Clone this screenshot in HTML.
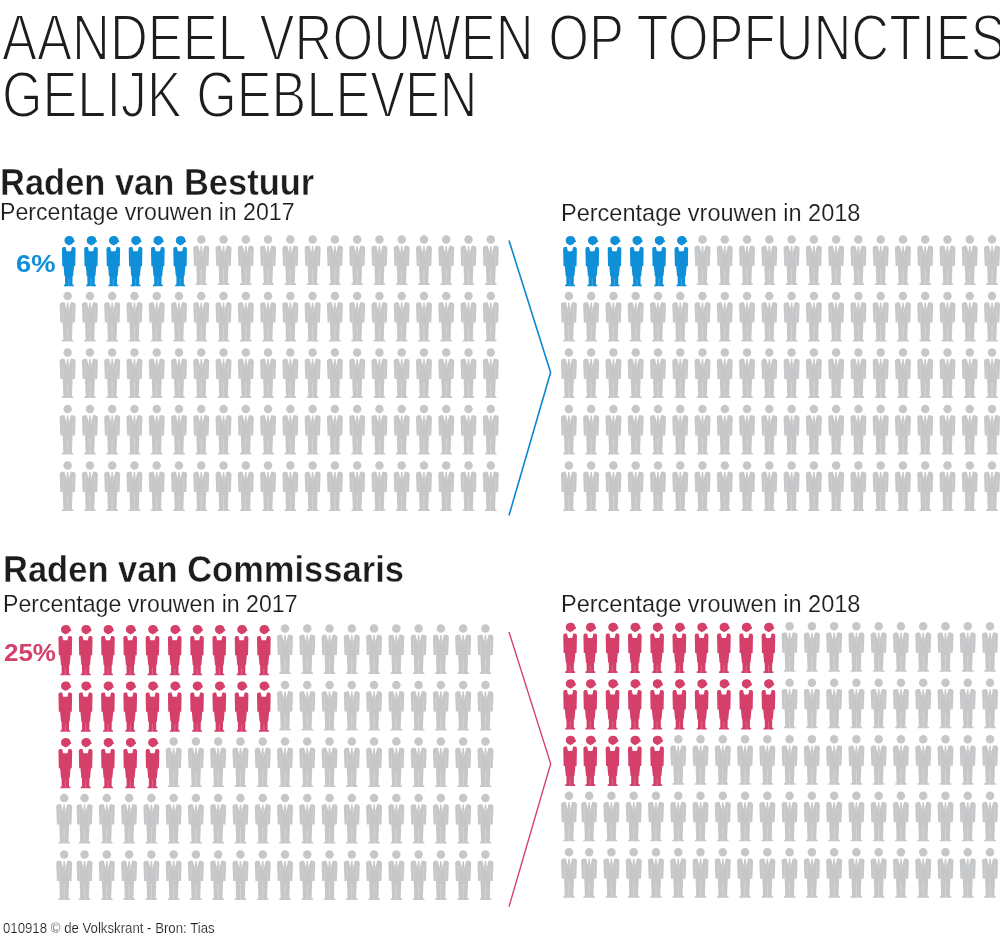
<!DOCTYPE html>
<html lang="nl">
<head>
<meta charset="utf-8">
<title>Aandeel vrouwen op topfuncties gelijk gebleven</title>
<style>
html,body{margin:0;padding:0;background:#fff;}
body{width:1000px;height:948px;position:relative;overflow:hidden;font-family:"Liberation Sans",sans-serif;}
.t{position:absolute;white-space:nowrap;line-height:1;transform-origin:0 0;}
</style>
</head>
<body>
<svg width="1000" height="948" viewBox="0 0 1000 948" style="position:absolute;left:0;top:0">
<defs>
<symbol id="m" overflow="visible">
<circle cx="9" cy="5.5" r="4.25"/>
<path d="M3.7 11.7 L5.9 11.7 L8.1 20 L7.75 18.2 L8.3 12.1 L9.7 12.1 L10.25 18.2 L9 21.2 L9.9 20 L12.1 11.7 L14.3 11.7 Q16.9 11.7 17 14.2 L16.3 32 L13.95 32 L13.3 49 L14.8 49.7 L14.8 51 L3.2 51 L3.2 49.7 L4.7 49 L4.05 32 L1.7 32 L1 14.2 Q1.1 11.7 3.7 11.7 Z"/>
<path d="M4.1 17 L4.3 32 M13.9 17 L13.7 32" stroke="#fff" stroke-opacity="0.3" stroke-width="0.45" fill="none"/>
<path d="M9 35 L9 51" stroke="#fff" stroke-opacity="0.45" stroke-width="0.55" fill="none"/>
</symbol>
<symbol id="w" overflow="visible">
<path d="M8 2.3 C11 1.3 13.9 2.9 14.2 5.8 L14.9 7.1 L14.9 8 L13.6 8.3 C13 9.6 11.6 10.5 10.4 10.8 L9.2 11.6 L8 10.8 C6 10.3 4.7 8.6 4.7 6.6 C4.7 4.5 5.9 2.8 8 2.3 Z"/>
<path d="M3.9 12.9 L5.8 12.9 L6.9 17.3 L11.1 17.3 L12.2 12.9 L13.9 12.9 Q15.8 12.9 15.85 15 L15.5 32.3 L14.3 32.3 L13.4 42 L12.8 42.3 L12.7 50.2 L14 50.9 L14 52.3 L4.1 52.3 L4.1 50.9 L5.4 50.2 L5.3 42.3 L4.7 42 L3.8 32.3 L2.5 32.3 L2.15 15 Q2.2 12.9 3.9 12.9 Z"/>
<path d="M9.05 44.5 L9.05 52.3" stroke="#fff" stroke-opacity="0.4" stroke-width="0.5" fill="none"/>
</symbol>
</defs>
<use href="#w" x="59.75" y="234.00" fill="#0f8fd8"/>
<use href="#w" x="82.02" y="234.00" fill="#0f8fd8"/>
<use href="#w" x="104.29" y="234.00" fill="#0f8fd8"/>
<use href="#w" x="126.56" y="234.00" fill="#0f8fd8"/>
<use href="#w" x="148.83" y="234.00" fill="#0f8fd8"/>
<use href="#w" x="171.10" y="234.00" fill="#0f8fd8"/>
<use href="#m" x="192.27" y="234.00" fill="#c6c7c9"/>
<use href="#m" x="214.54" y="234.00" fill="#c6c7c9"/>
<use href="#m" x="236.81" y="234.00" fill="#c6c7c9"/>
<use href="#m" x="259.08" y="234.00" fill="#c6c7c9"/>
<use href="#m" x="281.35" y="234.00" fill="#c6c7c9"/>
<use href="#m" x="303.62" y="234.00" fill="#c6c7c9"/>
<use href="#m" x="325.89" y="234.00" fill="#c6c7c9"/>
<use href="#m" x="348.16" y="234.00" fill="#c6c7c9"/>
<use href="#m" x="370.43" y="234.00" fill="#c6c7c9"/>
<use href="#m" x="392.70" y="234.00" fill="#c6c7c9"/>
<use href="#m" x="414.97" y="234.00" fill="#c6c7c9"/>
<use href="#m" x="437.24" y="234.00" fill="#c6c7c9"/>
<use href="#m" x="459.51" y="234.00" fill="#c6c7c9"/>
<use href="#m" x="481.78" y="234.00" fill="#c6c7c9"/>
<use href="#m" x="58.65" y="290.50" fill="#c6c7c9"/>
<use href="#m" x="80.92" y="290.50" fill="#c6c7c9"/>
<use href="#m" x="103.19" y="290.50" fill="#c6c7c9"/>
<use href="#m" x="125.46" y="290.50" fill="#c6c7c9"/>
<use href="#m" x="147.73" y="290.50" fill="#c6c7c9"/>
<use href="#m" x="170.00" y="290.50" fill="#c6c7c9"/>
<use href="#m" x="192.27" y="290.50" fill="#c6c7c9"/>
<use href="#m" x="214.54" y="290.50" fill="#c6c7c9"/>
<use href="#m" x="236.81" y="290.50" fill="#c6c7c9"/>
<use href="#m" x="259.08" y="290.50" fill="#c6c7c9"/>
<use href="#m" x="281.35" y="290.50" fill="#c6c7c9"/>
<use href="#m" x="303.62" y="290.50" fill="#c6c7c9"/>
<use href="#m" x="325.89" y="290.50" fill="#c6c7c9"/>
<use href="#m" x="348.16" y="290.50" fill="#c6c7c9"/>
<use href="#m" x="370.43" y="290.50" fill="#c6c7c9"/>
<use href="#m" x="392.70" y="290.50" fill="#c6c7c9"/>
<use href="#m" x="414.97" y="290.50" fill="#c6c7c9"/>
<use href="#m" x="437.24" y="290.50" fill="#c6c7c9"/>
<use href="#m" x="459.51" y="290.50" fill="#c6c7c9"/>
<use href="#m" x="481.78" y="290.50" fill="#c6c7c9"/>
<use href="#m" x="58.65" y="347.00" fill="#c6c7c9"/>
<use href="#m" x="80.92" y="347.00" fill="#c6c7c9"/>
<use href="#m" x="103.19" y="347.00" fill="#c6c7c9"/>
<use href="#m" x="125.46" y="347.00" fill="#c6c7c9"/>
<use href="#m" x="147.73" y="347.00" fill="#c6c7c9"/>
<use href="#m" x="170.00" y="347.00" fill="#c6c7c9"/>
<use href="#m" x="192.27" y="347.00" fill="#c6c7c9"/>
<use href="#m" x="214.54" y="347.00" fill="#c6c7c9"/>
<use href="#m" x="236.81" y="347.00" fill="#c6c7c9"/>
<use href="#m" x="259.08" y="347.00" fill="#c6c7c9"/>
<use href="#m" x="281.35" y="347.00" fill="#c6c7c9"/>
<use href="#m" x="303.62" y="347.00" fill="#c6c7c9"/>
<use href="#m" x="325.89" y="347.00" fill="#c6c7c9"/>
<use href="#m" x="348.16" y="347.00" fill="#c6c7c9"/>
<use href="#m" x="370.43" y="347.00" fill="#c6c7c9"/>
<use href="#m" x="392.70" y="347.00" fill="#c6c7c9"/>
<use href="#m" x="414.97" y="347.00" fill="#c6c7c9"/>
<use href="#m" x="437.24" y="347.00" fill="#c6c7c9"/>
<use href="#m" x="459.51" y="347.00" fill="#c6c7c9"/>
<use href="#m" x="481.78" y="347.00" fill="#c6c7c9"/>
<use href="#m" x="58.65" y="403.50" fill="#c6c7c9"/>
<use href="#m" x="80.92" y="403.50" fill="#c6c7c9"/>
<use href="#m" x="103.19" y="403.50" fill="#c6c7c9"/>
<use href="#m" x="125.46" y="403.50" fill="#c6c7c9"/>
<use href="#m" x="147.73" y="403.50" fill="#c6c7c9"/>
<use href="#m" x="170.00" y="403.50" fill="#c6c7c9"/>
<use href="#m" x="192.27" y="403.50" fill="#c6c7c9"/>
<use href="#m" x="214.54" y="403.50" fill="#c6c7c9"/>
<use href="#m" x="236.81" y="403.50" fill="#c6c7c9"/>
<use href="#m" x="259.08" y="403.50" fill="#c6c7c9"/>
<use href="#m" x="281.35" y="403.50" fill="#c6c7c9"/>
<use href="#m" x="303.62" y="403.50" fill="#c6c7c9"/>
<use href="#m" x="325.89" y="403.50" fill="#c6c7c9"/>
<use href="#m" x="348.16" y="403.50" fill="#c6c7c9"/>
<use href="#m" x="370.43" y="403.50" fill="#c6c7c9"/>
<use href="#m" x="392.70" y="403.50" fill="#c6c7c9"/>
<use href="#m" x="414.97" y="403.50" fill="#c6c7c9"/>
<use href="#m" x="437.24" y="403.50" fill="#c6c7c9"/>
<use href="#m" x="459.51" y="403.50" fill="#c6c7c9"/>
<use href="#m" x="481.78" y="403.50" fill="#c6c7c9"/>
<use href="#m" x="58.65" y="460.00" fill="#c6c7c9"/>
<use href="#m" x="80.92" y="460.00" fill="#c6c7c9"/>
<use href="#m" x="103.19" y="460.00" fill="#c6c7c9"/>
<use href="#m" x="125.46" y="460.00" fill="#c6c7c9"/>
<use href="#m" x="147.73" y="460.00" fill="#c6c7c9"/>
<use href="#m" x="170.00" y="460.00" fill="#c6c7c9"/>
<use href="#m" x="192.27" y="460.00" fill="#c6c7c9"/>
<use href="#m" x="214.54" y="460.00" fill="#c6c7c9"/>
<use href="#m" x="236.81" y="460.00" fill="#c6c7c9"/>
<use href="#m" x="259.08" y="460.00" fill="#c6c7c9"/>
<use href="#m" x="281.35" y="460.00" fill="#c6c7c9"/>
<use href="#m" x="303.62" y="460.00" fill="#c6c7c9"/>
<use href="#m" x="325.89" y="460.00" fill="#c6c7c9"/>
<use href="#m" x="348.16" y="460.00" fill="#c6c7c9"/>
<use href="#m" x="370.43" y="460.00" fill="#c6c7c9"/>
<use href="#m" x="392.70" y="460.00" fill="#c6c7c9"/>
<use href="#m" x="414.97" y="460.00" fill="#c6c7c9"/>
<use href="#m" x="437.24" y="460.00" fill="#c6c7c9"/>
<use href="#m" x="459.51" y="460.00" fill="#c6c7c9"/>
<use href="#m" x="481.78" y="460.00" fill="#c6c7c9"/>
<use href="#w" x="561.00" y="234.00" fill="#0f8fd8"/>
<use href="#w" x="583.27" y="234.00" fill="#0f8fd8"/>
<use href="#w" x="605.54" y="234.00" fill="#0f8fd8"/>
<use href="#w" x="627.81" y="234.00" fill="#0f8fd8"/>
<use href="#w" x="650.08" y="234.00" fill="#0f8fd8"/>
<use href="#w" x="672.35" y="234.00" fill="#0f8fd8"/>
<use href="#m" x="693.52" y="234.00" fill="#c6c7c9"/>
<use href="#m" x="715.79" y="234.00" fill="#c6c7c9"/>
<use href="#m" x="738.06" y="234.00" fill="#c6c7c9"/>
<use href="#m" x="760.33" y="234.00" fill="#c6c7c9"/>
<use href="#m" x="782.60" y="234.00" fill="#c6c7c9"/>
<use href="#m" x="804.87" y="234.00" fill="#c6c7c9"/>
<use href="#m" x="827.14" y="234.00" fill="#c6c7c9"/>
<use href="#m" x="849.41" y="234.00" fill="#c6c7c9"/>
<use href="#m" x="871.68" y="234.00" fill="#c6c7c9"/>
<use href="#m" x="893.95" y="234.00" fill="#c6c7c9"/>
<use href="#m" x="916.22" y="234.00" fill="#c6c7c9"/>
<use href="#m" x="938.49" y="234.00" fill="#c6c7c9"/>
<use href="#m" x="960.76" y="234.00" fill="#c6c7c9"/>
<use href="#m" x="983.03" y="234.00" fill="#c6c7c9"/>
<use href="#m" x="559.90" y="290.50" fill="#c6c7c9"/>
<use href="#m" x="582.17" y="290.50" fill="#c6c7c9"/>
<use href="#m" x="604.44" y="290.50" fill="#c6c7c9"/>
<use href="#m" x="626.71" y="290.50" fill="#c6c7c9"/>
<use href="#m" x="648.98" y="290.50" fill="#c6c7c9"/>
<use href="#m" x="671.25" y="290.50" fill="#c6c7c9"/>
<use href="#m" x="693.52" y="290.50" fill="#c6c7c9"/>
<use href="#m" x="715.79" y="290.50" fill="#c6c7c9"/>
<use href="#m" x="738.06" y="290.50" fill="#c6c7c9"/>
<use href="#m" x="760.33" y="290.50" fill="#c6c7c9"/>
<use href="#m" x="782.60" y="290.50" fill="#c6c7c9"/>
<use href="#m" x="804.87" y="290.50" fill="#c6c7c9"/>
<use href="#m" x="827.14" y="290.50" fill="#c6c7c9"/>
<use href="#m" x="849.41" y="290.50" fill="#c6c7c9"/>
<use href="#m" x="871.68" y="290.50" fill="#c6c7c9"/>
<use href="#m" x="893.95" y="290.50" fill="#c6c7c9"/>
<use href="#m" x="916.22" y="290.50" fill="#c6c7c9"/>
<use href="#m" x="938.49" y="290.50" fill="#c6c7c9"/>
<use href="#m" x="960.76" y="290.50" fill="#c6c7c9"/>
<use href="#m" x="983.03" y="290.50" fill="#c6c7c9"/>
<use href="#m" x="559.90" y="347.00" fill="#c6c7c9"/>
<use href="#m" x="582.17" y="347.00" fill="#c6c7c9"/>
<use href="#m" x="604.44" y="347.00" fill="#c6c7c9"/>
<use href="#m" x="626.71" y="347.00" fill="#c6c7c9"/>
<use href="#m" x="648.98" y="347.00" fill="#c6c7c9"/>
<use href="#m" x="671.25" y="347.00" fill="#c6c7c9"/>
<use href="#m" x="693.52" y="347.00" fill="#c6c7c9"/>
<use href="#m" x="715.79" y="347.00" fill="#c6c7c9"/>
<use href="#m" x="738.06" y="347.00" fill="#c6c7c9"/>
<use href="#m" x="760.33" y="347.00" fill="#c6c7c9"/>
<use href="#m" x="782.60" y="347.00" fill="#c6c7c9"/>
<use href="#m" x="804.87" y="347.00" fill="#c6c7c9"/>
<use href="#m" x="827.14" y="347.00" fill="#c6c7c9"/>
<use href="#m" x="849.41" y="347.00" fill="#c6c7c9"/>
<use href="#m" x="871.68" y="347.00" fill="#c6c7c9"/>
<use href="#m" x="893.95" y="347.00" fill="#c6c7c9"/>
<use href="#m" x="916.22" y="347.00" fill="#c6c7c9"/>
<use href="#m" x="938.49" y="347.00" fill="#c6c7c9"/>
<use href="#m" x="960.76" y="347.00" fill="#c6c7c9"/>
<use href="#m" x="983.03" y="347.00" fill="#c6c7c9"/>
<use href="#m" x="559.90" y="403.50" fill="#c6c7c9"/>
<use href="#m" x="582.17" y="403.50" fill="#c6c7c9"/>
<use href="#m" x="604.44" y="403.50" fill="#c6c7c9"/>
<use href="#m" x="626.71" y="403.50" fill="#c6c7c9"/>
<use href="#m" x="648.98" y="403.50" fill="#c6c7c9"/>
<use href="#m" x="671.25" y="403.50" fill="#c6c7c9"/>
<use href="#m" x="693.52" y="403.50" fill="#c6c7c9"/>
<use href="#m" x="715.79" y="403.50" fill="#c6c7c9"/>
<use href="#m" x="738.06" y="403.50" fill="#c6c7c9"/>
<use href="#m" x="760.33" y="403.50" fill="#c6c7c9"/>
<use href="#m" x="782.60" y="403.50" fill="#c6c7c9"/>
<use href="#m" x="804.87" y="403.50" fill="#c6c7c9"/>
<use href="#m" x="827.14" y="403.50" fill="#c6c7c9"/>
<use href="#m" x="849.41" y="403.50" fill="#c6c7c9"/>
<use href="#m" x="871.68" y="403.50" fill="#c6c7c9"/>
<use href="#m" x="893.95" y="403.50" fill="#c6c7c9"/>
<use href="#m" x="916.22" y="403.50" fill="#c6c7c9"/>
<use href="#m" x="938.49" y="403.50" fill="#c6c7c9"/>
<use href="#m" x="960.76" y="403.50" fill="#c6c7c9"/>
<use href="#m" x="983.03" y="403.50" fill="#c6c7c9"/>
<use href="#m" x="559.90" y="460.00" fill="#c6c7c9"/>
<use href="#m" x="582.17" y="460.00" fill="#c6c7c9"/>
<use href="#m" x="604.44" y="460.00" fill="#c6c7c9"/>
<use href="#m" x="626.71" y="460.00" fill="#c6c7c9"/>
<use href="#m" x="648.98" y="460.00" fill="#c6c7c9"/>
<use href="#m" x="671.25" y="460.00" fill="#c6c7c9"/>
<use href="#m" x="693.52" y="460.00" fill="#c6c7c9"/>
<use href="#m" x="715.79" y="460.00" fill="#c6c7c9"/>
<use href="#m" x="738.06" y="460.00" fill="#c6c7c9"/>
<use href="#m" x="760.33" y="460.00" fill="#c6c7c9"/>
<use href="#m" x="782.60" y="460.00" fill="#c6c7c9"/>
<use href="#m" x="804.87" y="460.00" fill="#c6c7c9"/>
<use href="#m" x="827.14" y="460.00" fill="#c6c7c9"/>
<use href="#m" x="849.41" y="460.00" fill="#c6c7c9"/>
<use href="#m" x="871.68" y="460.00" fill="#c6c7c9"/>
<use href="#m" x="893.95" y="460.00" fill="#c6c7c9"/>
<use href="#m" x="916.22" y="460.00" fill="#c6c7c9"/>
<use href="#m" x="938.49" y="460.00" fill="#c6c7c9"/>
<use href="#m" x="960.76" y="460.00" fill="#c6c7c9"/>
<use href="#m" x="983.03" y="460.00" fill="#c6c7c9"/>
<use href="#w" x="56.30" y="623.00" fill="#d5406b"/>
<use href="#w" x="76.67" y="623.00" fill="#d5406b"/>
<use href="#w" x="98.94" y="623.00" fill="#d5406b"/>
<use href="#w" x="121.21" y="623.00" fill="#d5406b"/>
<use href="#w" x="143.48" y="623.00" fill="#d5406b"/>
<use href="#w" x="165.75" y="623.00" fill="#d5406b"/>
<use href="#w" x="188.02" y="623.00" fill="#d5406b"/>
<use href="#w" x="210.29" y="623.00" fill="#d5406b"/>
<use href="#w" x="232.56" y="623.00" fill="#d5406b"/>
<use href="#w" x="254.83" y="623.00" fill="#d5406b"/>
<use href="#m" x="276.00" y="623.00" fill="#c6c7c9"/>
<use href="#m" x="298.27" y="623.00" fill="#c6c7c9"/>
<use href="#m" x="320.54" y="623.00" fill="#c6c7c9"/>
<use href="#m" x="342.81" y="623.00" fill="#c6c7c9"/>
<use href="#m" x="365.08" y="623.00" fill="#c6c7c9"/>
<use href="#m" x="387.35" y="623.00" fill="#c6c7c9"/>
<use href="#m" x="409.62" y="623.00" fill="#c6c7c9"/>
<use href="#m" x="431.89" y="623.00" fill="#c6c7c9"/>
<use href="#m" x="454.16" y="623.00" fill="#c6c7c9"/>
<use href="#m" x="476.43" y="623.00" fill="#c6c7c9"/>
<use href="#w" x="56.30" y="679.50" fill="#d5406b"/>
<use href="#w" x="76.67" y="679.50" fill="#d5406b"/>
<use href="#w" x="98.94" y="679.50" fill="#d5406b"/>
<use href="#w" x="121.21" y="679.50" fill="#d5406b"/>
<use href="#w" x="143.48" y="679.50" fill="#d5406b"/>
<use href="#w" x="165.75" y="679.50" fill="#d5406b"/>
<use href="#w" x="188.02" y="679.50" fill="#d5406b"/>
<use href="#w" x="210.29" y="679.50" fill="#d5406b"/>
<use href="#w" x="232.56" y="679.50" fill="#d5406b"/>
<use href="#w" x="254.83" y="679.50" fill="#d5406b"/>
<use href="#m" x="276.00" y="679.50" fill="#c6c7c9"/>
<use href="#m" x="298.27" y="679.50" fill="#c6c7c9"/>
<use href="#m" x="320.54" y="679.50" fill="#c6c7c9"/>
<use href="#m" x="342.81" y="679.50" fill="#c6c7c9"/>
<use href="#m" x="365.08" y="679.50" fill="#c6c7c9"/>
<use href="#m" x="387.35" y="679.50" fill="#c6c7c9"/>
<use href="#m" x="409.62" y="679.50" fill="#c6c7c9"/>
<use href="#m" x="431.89" y="679.50" fill="#c6c7c9"/>
<use href="#m" x="454.16" y="679.50" fill="#c6c7c9"/>
<use href="#m" x="476.43" y="679.50" fill="#c6c7c9"/>
<use href="#w" x="56.30" y="736.00" fill="#d5406b"/>
<use href="#w" x="76.67" y="736.00" fill="#d5406b"/>
<use href="#w" x="98.94" y="736.00" fill="#d5406b"/>
<use href="#w" x="121.21" y="736.00" fill="#d5406b"/>
<use href="#w" x="143.48" y="736.00" fill="#d5406b"/>
<use href="#m" x="164.65" y="736.00" fill="#c6c7c9"/>
<use href="#m" x="186.92" y="736.00" fill="#c6c7c9"/>
<use href="#m" x="209.19" y="736.00" fill="#c6c7c9"/>
<use href="#m" x="231.46" y="736.00" fill="#c6c7c9"/>
<use href="#m" x="253.73" y="736.00" fill="#c6c7c9"/>
<use href="#m" x="276.00" y="736.00" fill="#c6c7c9"/>
<use href="#m" x="298.27" y="736.00" fill="#c6c7c9"/>
<use href="#m" x="320.54" y="736.00" fill="#c6c7c9"/>
<use href="#m" x="342.81" y="736.00" fill="#c6c7c9"/>
<use href="#m" x="365.08" y="736.00" fill="#c6c7c9"/>
<use href="#m" x="387.35" y="736.00" fill="#c6c7c9"/>
<use href="#m" x="409.62" y="736.00" fill="#c6c7c9"/>
<use href="#m" x="431.89" y="736.00" fill="#c6c7c9"/>
<use href="#m" x="454.16" y="736.00" fill="#c6c7c9"/>
<use href="#m" x="476.43" y="736.00" fill="#c6c7c9"/>
<use href="#m" x="55.20" y="792.50" fill="#c6c7c9"/>
<use href="#m" x="75.57" y="792.50" fill="#c6c7c9"/>
<use href="#m" x="97.84" y="792.50" fill="#c6c7c9"/>
<use href="#m" x="120.11" y="792.50" fill="#c6c7c9"/>
<use href="#m" x="142.38" y="792.50" fill="#c6c7c9"/>
<use href="#m" x="164.65" y="792.50" fill="#c6c7c9"/>
<use href="#m" x="186.92" y="792.50" fill="#c6c7c9"/>
<use href="#m" x="209.19" y="792.50" fill="#c6c7c9"/>
<use href="#m" x="231.46" y="792.50" fill="#c6c7c9"/>
<use href="#m" x="253.73" y="792.50" fill="#c6c7c9"/>
<use href="#m" x="276.00" y="792.50" fill="#c6c7c9"/>
<use href="#m" x="298.27" y="792.50" fill="#c6c7c9"/>
<use href="#m" x="320.54" y="792.50" fill="#c6c7c9"/>
<use href="#m" x="342.81" y="792.50" fill="#c6c7c9"/>
<use href="#m" x="365.08" y="792.50" fill="#c6c7c9"/>
<use href="#m" x="387.35" y="792.50" fill="#c6c7c9"/>
<use href="#m" x="409.62" y="792.50" fill="#c6c7c9"/>
<use href="#m" x="431.89" y="792.50" fill="#c6c7c9"/>
<use href="#m" x="454.16" y="792.50" fill="#c6c7c9"/>
<use href="#m" x="476.43" y="792.50" fill="#c6c7c9"/>
<use href="#m" x="55.20" y="849.00" fill="#c6c7c9"/>
<use href="#m" x="75.57" y="849.00" fill="#c6c7c9"/>
<use href="#m" x="97.84" y="849.00" fill="#c6c7c9"/>
<use href="#m" x="120.11" y="849.00" fill="#c6c7c9"/>
<use href="#m" x="142.38" y="849.00" fill="#c6c7c9"/>
<use href="#m" x="164.65" y="849.00" fill="#c6c7c9"/>
<use href="#m" x="186.92" y="849.00" fill="#c6c7c9"/>
<use href="#m" x="209.19" y="849.00" fill="#c6c7c9"/>
<use href="#m" x="231.46" y="849.00" fill="#c6c7c9"/>
<use href="#m" x="253.73" y="849.00" fill="#c6c7c9"/>
<use href="#m" x="276.00" y="849.00" fill="#c6c7c9"/>
<use href="#m" x="298.27" y="849.00" fill="#c6c7c9"/>
<use href="#m" x="320.54" y="849.00" fill="#c6c7c9"/>
<use href="#m" x="342.81" y="849.00" fill="#c6c7c9"/>
<use href="#m" x="365.08" y="849.00" fill="#c6c7c9"/>
<use href="#m" x="387.35" y="849.00" fill="#c6c7c9"/>
<use href="#m" x="409.62" y="849.00" fill="#c6c7c9"/>
<use href="#m" x="431.89" y="849.00" fill="#c6c7c9"/>
<use href="#m" x="454.16" y="849.00" fill="#c6c7c9"/>
<use href="#m" x="476.43" y="849.00" fill="#c6c7c9"/>
<use href="#w" x="561.10" y="620.70" fill="#d5406b"/>
<use href="#w" x="581.27" y="620.70" fill="#d5406b"/>
<use href="#w" x="603.54" y="620.70" fill="#d5406b"/>
<use href="#w" x="625.81" y="620.70" fill="#d5406b"/>
<use href="#w" x="648.08" y="620.70" fill="#d5406b"/>
<use href="#w" x="670.35" y="620.70" fill="#d5406b"/>
<use href="#w" x="692.62" y="620.70" fill="#d5406b"/>
<use href="#w" x="714.89" y="620.70" fill="#d5406b"/>
<use href="#w" x="737.16" y="620.70" fill="#d5406b"/>
<use href="#w" x="759.43" y="620.70" fill="#d5406b"/>
<use href="#m" x="780.60" y="620.70" fill="#c6c7c9"/>
<use href="#m" x="802.87" y="620.70" fill="#c6c7c9"/>
<use href="#m" x="825.14" y="620.70" fill="#c6c7c9"/>
<use href="#m" x="847.41" y="620.70" fill="#c6c7c9"/>
<use href="#m" x="869.68" y="620.70" fill="#c6c7c9"/>
<use href="#m" x="891.95" y="620.70" fill="#c6c7c9"/>
<use href="#m" x="914.22" y="620.70" fill="#c6c7c9"/>
<use href="#m" x="936.49" y="620.70" fill="#c6c7c9"/>
<use href="#m" x="958.76" y="620.70" fill="#c6c7c9"/>
<use href="#m" x="981.03" y="620.70" fill="#c6c7c9"/>
<use href="#w" x="561.10" y="677.20" fill="#d5406b"/>
<use href="#w" x="581.27" y="677.20" fill="#d5406b"/>
<use href="#w" x="603.54" y="677.20" fill="#d5406b"/>
<use href="#w" x="625.81" y="677.20" fill="#d5406b"/>
<use href="#w" x="648.08" y="677.20" fill="#d5406b"/>
<use href="#w" x="670.35" y="677.20" fill="#d5406b"/>
<use href="#w" x="692.62" y="677.20" fill="#d5406b"/>
<use href="#w" x="714.89" y="677.20" fill="#d5406b"/>
<use href="#w" x="737.16" y="677.20" fill="#d5406b"/>
<use href="#w" x="759.43" y="677.20" fill="#d5406b"/>
<use href="#m" x="780.60" y="677.20" fill="#c6c7c9"/>
<use href="#m" x="802.87" y="677.20" fill="#c6c7c9"/>
<use href="#m" x="825.14" y="677.20" fill="#c6c7c9"/>
<use href="#m" x="847.41" y="677.20" fill="#c6c7c9"/>
<use href="#m" x="869.68" y="677.20" fill="#c6c7c9"/>
<use href="#m" x="891.95" y="677.20" fill="#c6c7c9"/>
<use href="#m" x="914.22" y="677.20" fill="#c6c7c9"/>
<use href="#m" x="936.49" y="677.20" fill="#c6c7c9"/>
<use href="#m" x="958.76" y="677.20" fill="#c6c7c9"/>
<use href="#m" x="981.03" y="677.20" fill="#c6c7c9"/>
<use href="#w" x="561.10" y="733.70" fill="#d5406b"/>
<use href="#w" x="581.27" y="733.70" fill="#d5406b"/>
<use href="#w" x="603.54" y="733.70" fill="#d5406b"/>
<use href="#w" x="625.81" y="733.70" fill="#d5406b"/>
<use href="#w" x="648.08" y="733.70" fill="#d5406b"/>
<use href="#m" x="669.25" y="733.70" fill="#c6c7c9"/>
<use href="#m" x="691.52" y="733.70" fill="#c6c7c9"/>
<use href="#m" x="713.79" y="733.70" fill="#c6c7c9"/>
<use href="#m" x="736.06" y="733.70" fill="#c6c7c9"/>
<use href="#m" x="758.33" y="733.70" fill="#c6c7c9"/>
<use href="#m" x="780.60" y="733.70" fill="#c6c7c9"/>
<use href="#m" x="802.87" y="733.70" fill="#c6c7c9"/>
<use href="#m" x="825.14" y="733.70" fill="#c6c7c9"/>
<use href="#m" x="847.41" y="733.70" fill="#c6c7c9"/>
<use href="#m" x="869.68" y="733.70" fill="#c6c7c9"/>
<use href="#m" x="891.95" y="733.70" fill="#c6c7c9"/>
<use href="#m" x="914.22" y="733.70" fill="#c6c7c9"/>
<use href="#m" x="936.49" y="733.70" fill="#c6c7c9"/>
<use href="#m" x="958.76" y="733.70" fill="#c6c7c9"/>
<use href="#m" x="981.03" y="733.70" fill="#c6c7c9"/>
<use href="#m" x="560.00" y="790.20" fill="#c6c7c9"/>
<use href="#m" x="580.17" y="790.20" fill="#c6c7c9"/>
<use href="#m" x="602.44" y="790.20" fill="#c6c7c9"/>
<use href="#m" x="624.71" y="790.20" fill="#c6c7c9"/>
<use href="#m" x="646.98" y="790.20" fill="#c6c7c9"/>
<use href="#m" x="669.25" y="790.20" fill="#c6c7c9"/>
<use href="#m" x="691.52" y="790.20" fill="#c6c7c9"/>
<use href="#m" x="713.79" y="790.20" fill="#c6c7c9"/>
<use href="#m" x="736.06" y="790.20" fill="#c6c7c9"/>
<use href="#m" x="758.33" y="790.20" fill="#c6c7c9"/>
<use href="#m" x="780.60" y="790.20" fill="#c6c7c9"/>
<use href="#m" x="802.87" y="790.20" fill="#c6c7c9"/>
<use href="#m" x="825.14" y="790.20" fill="#c6c7c9"/>
<use href="#m" x="847.41" y="790.20" fill="#c6c7c9"/>
<use href="#m" x="869.68" y="790.20" fill="#c6c7c9"/>
<use href="#m" x="891.95" y="790.20" fill="#c6c7c9"/>
<use href="#m" x="914.22" y="790.20" fill="#c6c7c9"/>
<use href="#m" x="936.49" y="790.20" fill="#c6c7c9"/>
<use href="#m" x="958.76" y="790.20" fill="#c6c7c9"/>
<use href="#m" x="981.03" y="790.20" fill="#c6c7c9"/>
<use href="#m" x="560.00" y="846.70" fill="#c6c7c9"/>
<use href="#m" x="580.17" y="846.70" fill="#c6c7c9"/>
<use href="#m" x="602.44" y="846.70" fill="#c6c7c9"/>
<use href="#m" x="624.71" y="846.70" fill="#c6c7c9"/>
<use href="#m" x="646.98" y="846.70" fill="#c6c7c9"/>
<use href="#m" x="669.25" y="846.70" fill="#c6c7c9"/>
<use href="#m" x="691.52" y="846.70" fill="#c6c7c9"/>
<use href="#m" x="713.79" y="846.70" fill="#c6c7c9"/>
<use href="#m" x="736.06" y="846.70" fill="#c6c7c9"/>
<use href="#m" x="758.33" y="846.70" fill="#c6c7c9"/>
<use href="#m" x="780.60" y="846.70" fill="#c6c7c9"/>
<use href="#m" x="802.87" y="846.70" fill="#c6c7c9"/>
<use href="#m" x="825.14" y="846.70" fill="#c6c7c9"/>
<use href="#m" x="847.41" y="846.70" fill="#c6c7c9"/>
<use href="#m" x="869.68" y="846.70" fill="#c6c7c9"/>
<use href="#m" x="891.95" y="846.70" fill="#c6c7c9"/>
<use href="#m" x="914.22" y="846.70" fill="#c6c7c9"/>
<use href="#m" x="936.49" y="846.70" fill="#c6c7c9"/>
<use href="#m" x="958.76" y="846.70" fill="#c6c7c9"/>
<use href="#m" x="981.03" y="846.70" fill="#c6c7c9"/>
<polyline points="509,240.5 550.6,372.5 509,515.5" fill="none" stroke="#0d86cf" stroke-width="1.6"/>
<polyline points="509,632 550.7,763.8 509,906.7" fill="none" stroke="#d5406b" stroke-width="1.35"/>
</svg>
<div class="t" style="left:1.95px;top:6px;font-size:64.2px;font-weight:normal;color:#1d1d1b;transform:scaleX(0.8174);-webkit-text-stroke:1.9px #fff;">AANDEEL VROUWEN OP TOPFUNCTIES</div>
<div class="t" style="left:2.0px;top:63px;font-size:64.2px;font-weight:normal;color:#1d1d1b;transform:scaleX(0.8127);-webkit-text-stroke:1.9px #fff;">GELIJK GEBLEVEN</div>
<div class="t" style="left:0.0px;top:164px;font-size:37.5px;font-weight:bold;color:#1d1d1b;transform:scaleX(0.9194);-webkit-text-stroke:0.4px #fff;">Raden van Bestuur</div>
<div class="t" style="left:0.4px;top:200px;font-size:24.2px;font-weight:normal;color:#1d1d1b;transform:scaleX(0.9567);-webkit-text-stroke:0.15px #fff;">Percentage vrouwen in 2017</div>
<div class="t" style="left:561.4px;top:201px;font-size:24.2px;font-weight:normal;color:#1d1d1b;transform:scaleX(0.9724);-webkit-text-stroke:0.15px #fff;">Percentage vrouwen in 2018</div>
<div class="t" style="left:16.4px;top:252px;font-size:24.4px;font-weight:bold;color:#0f8fd8;transform:scaleX(1.118);">6%</div>
<div class="t" style="left:3.1px;top:551px;font-size:37.5px;font-weight:bold;color:#1d1d1b;transform:scaleX(0.9204);-webkit-text-stroke:0.4px #fff;">Raden van Commissaris</div>
<div class="t" style="left:3.3px;top:592px;font-size:24.2px;font-weight:normal;color:#1d1d1b;transform:scaleX(0.9567);-webkit-text-stroke:0.15px #fff;">Percentage vrouwen in 2017</div>
<div class="t" style="left:561.4px;top:592px;font-size:24.2px;font-weight:normal;color:#1d1d1b;transform:scaleX(0.9724);-webkit-text-stroke:0.15px #fff;">Percentage vrouwen in 2018</div>
<div class="t" style="left:4.0px;top:641px;font-size:24.4px;font-weight:bold;color:#d5406b;transform:scaleX(1.0643);">25%</div>
<div class="t" style="left:2.9px;top:920px;font-size:15px;font-weight:normal;color:#1a1a1a;transform:scaleX(0.8803);-webkit-text-stroke:0.2px #fff;">010918 © de Volkskrant - Bron: Tias</div>
</body>
</html>
